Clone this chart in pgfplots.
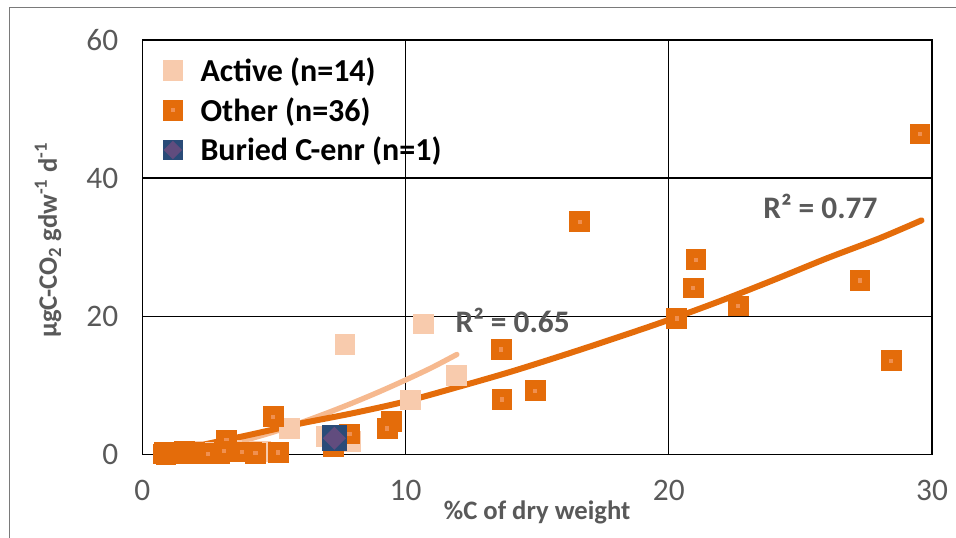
\documentclass[border=0pt]{standalone}
\usepackage{fontspec}
\setmainfont{Carlito}
\usepackage{pgfplots}
\pgfplotsset{compat=1.18}
\definecolor{othc}{HTML}{E46C0A}
\definecolor{othdot}{HTML}{F09050}
\definecolor{actc}{HTML}{F8CBAD}
\definecolor{actline}{HTML}{F6B98F}
\definecolor{burblue}{HTML}{2A4B78}
\definecolor{burpurp}{HTML}{614C7E}
\definecolor{txtgray}{HTML}{595959}

\pgfdeclareplotmark{rsq}{%
  \pgfscope
  \pgfsetcornersarced{\pgfpoint{2.5pt}{2.5pt}}%
  \pgfpathrectangle{\pgfpoint{-\pgfplotmarksize}{-\pgfplotmarksize}}{\pgfpoint{2\pgfplotmarksize}{2\pgfplotmarksize}}%
  \pgfusepathqfill
  \endpgfscope}
\pgfdeclareplotmark{osq}{%
  \pgfscope
  \pgfsetcornersarced{\pgfpoint{2.5pt}{2.5pt}}%
  \pgfpathrectangle{\pgfpoint{-\pgfplotmarksize}{-\pgfplotmarksize}}{\pgfpoint{2\pgfplotmarksize}{2\pgfplotmarksize}}%
  \pgfusepathqfill
  \endpgfscope
  \pgfscope
  \pgfsetfillcolor{othdot}%
  \pgfpathrectangle{\pgfpoint{-1.6pt}{-1.6pt}}{\pgfpoint{3.2pt}{3.2pt}}%
  \pgfusepathqfill
  \endpgfscope}
\pgfdeclareplotmark{bsq}{%
  \pgfscope
  \pgfsetfillcolor{burblue}%
  \pgfsetcornersarced{\pgfpoint{2.5pt}{2.5pt}}%
  \pgfpathrectangle{\pgfpoint{-\pgfplotmarksize}{-\pgfplotmarksize}}{\pgfpoint{2\pgfplotmarksize}{2\pgfplotmarksize}}%
  \pgfusepathqfill
  \endpgfscope
  \pgfscope
  \pgfsetfillcolor{burpurp}%
  \pgfpathmoveto{\pgfpoint{0pt}{0.9\pgfplotmarksize}}%
  \pgfpathlineto{\pgfpoint{0.9\pgfplotmarksize}{0pt}}%
  \pgfpathlineto{\pgfpoint{0pt}{-0.9\pgfplotmarksize}}%
  \pgfpathlineto{\pgfpoint{-0.9\pgfplotmarksize}{0pt}}%
  \pgfpathclose
  \pgfusepathqfill
  \endpgfscope}
\pgfplotsset{buriedlegend/.style={legend image code/.code={\draw[##1, mark size=7.75pt] plot coordinates {(0pt,0pt)};}}}

\begin{document}
\begin{tikzpicture}
\useasboundingbox (0pt,0pt) rectangle (717pt,403.5pt);
\draw[txtgray!80, line width=1.1pt] (7.3pt,0pt) -- (7.3pt,398pt) -- (717pt,398pt);
\begin{axis}[
  at={(106.7pt,62.5pt)}, anchor=south west,
  scale only axis, width=592.3pt, height=311pt,
  xmin=0, xmax=30, ymin=0, ymax=60,
  xtick={0,10,20,30}, ytick={0,20,40,60},
  major tick length=0pt,
  grid=major,
  major grid style={black, line width=1.1pt},
  axis line style={black, line width=1.1pt},
  /pgf/number format/assume math mode=true,
  ticklabel style={font=\fontsize{23.5}{28}\selectfont, text=txtgray},
  xticklabel style={yshift=-15.5pt},
  yticklabel style={xshift=-14.5pt},
  xlabel={\%C of dry weight},
  ylabel={µgC-CO\textsubscript{2} gdw\textsuperscript{-1} d\textsuperscript{-1}},
  xlabel style={at={(axis description cs:0.5,-0.157)}, anchor=base, font=\bfseries\fontsize{20}{24}\selectfont, text=txtgray},
  ylabel style={at={(axis description cs:-0.108,0.517)}, anchor=base, font=\bfseries\fontsize{20}{24}\selectfont, text=txtgray},
  legend cell align=left,
  legend style={at={(axis description cs:0,1)}, anchor=north west, xshift=15pt, yshift=-12pt,
    draw=none, fill=none, inner sep=0pt, row sep=8.5pt, column sep=12pt,
    font=\bfseries\fontsize{24}{28}\selectfont,
    nodes={inner sep=1pt, text=black}},
  legend image code/.code={\draw[#1] plot coordinates {(0pt,0pt)};},
]
\addplot[only marks, mark=rsq, mark size=7.75pt, color=actc] coordinates {
(10.68,18.9)(7.70,15.9)(11.94,11.5)(10.2,7.9)(5.6,3.8)(7.0,2.6)(7.9,1.9)
(1.0,0.2)(1.5,0.3)(1.9,0.5)(2.4,0.3)(2.8,0.4)(3.4,0.6)(4.5,0.5)};
\addlegendentry{Active (n=14)}
\addplot[only marks, mark=osq, mark size=7.75pt, color=othc] coordinates {
(29.55,46.4)(16.62,33.7)(21.03,28.2)(20.93,24.1)(20.30,19.7)(22.64,21.5)
(27.27,25.2)(28.45,13.6)(13.64,15.2)(13.67,8.0)(14.93,9.25)(9.47,4.77)
(9.31,3.8)(7.87,3.0)(7.26,1.2)(4.98,5.5)(5.17,0.3)(4.16,0.4)(3.78,0.4)
(3.2,2.1)(2.95,0.2)(0.8,0.1)(0.85,0.3)(0.9,0.05)(1.0,0.2)(1.1,0.4)(1.2,0.1)
(1.3,0.3)(1.5,0.2)(1.6,0.5)(1.8,0.1)(2.0,0.3)(2.2,0.2)(2.5,0.1)(3.1,0.5)(4.3,0.2)};
\addlegendentry{Other (n=36)}
\addplot[only marks, mark=bsq, mark size=9.6pt, color=burblue, buriedlegend] coordinates {(7.3,2.37)};
\addlegendentry{Buried C-enr (n=1)}
\addplot[actline, line width=4pt, line cap=round, smooth, forget plot] coordinates {
(1,0.1)(2,0.6)(3,1.3)(4,2.2)(5,3.3)(6,4.6)(7,6.0)(8,7.5)(9,9.1)(10,10.8)(11,12.6)(11.95,14.5)};
\addplot[othc, line width=4.5pt, line cap=round, smooth, forget plot] coordinates {
(0.8,0.3)(2,1.2)(4,2.8)(6,4.5)(8,6.0)(10,7.7)(12,9.8)(14,12.0)(16,14.4)(18,16.9)
(20,19.5)(22,22.3)(24,25.3)(26,28.4)(28,31.3)(29.6,33.9)};
\addplot[only marks, mark=bsq, mark size=9.6pt, color=burblue, forget plot] coordinates {(7.3,2.37)};
\node[font=\bfseries\fontsize{23.5}{28}\selectfont, text=txtgray] at (axis cs:14.07,19.45) {R² = 0.65};
\node[font=\bfseries\fontsize{23.5}{28}\selectfont, text=txtgray] at (axis cs:25.76,35.9) {R² = 0.77};
\end{axis}
\end{tikzpicture}
\end{document}
